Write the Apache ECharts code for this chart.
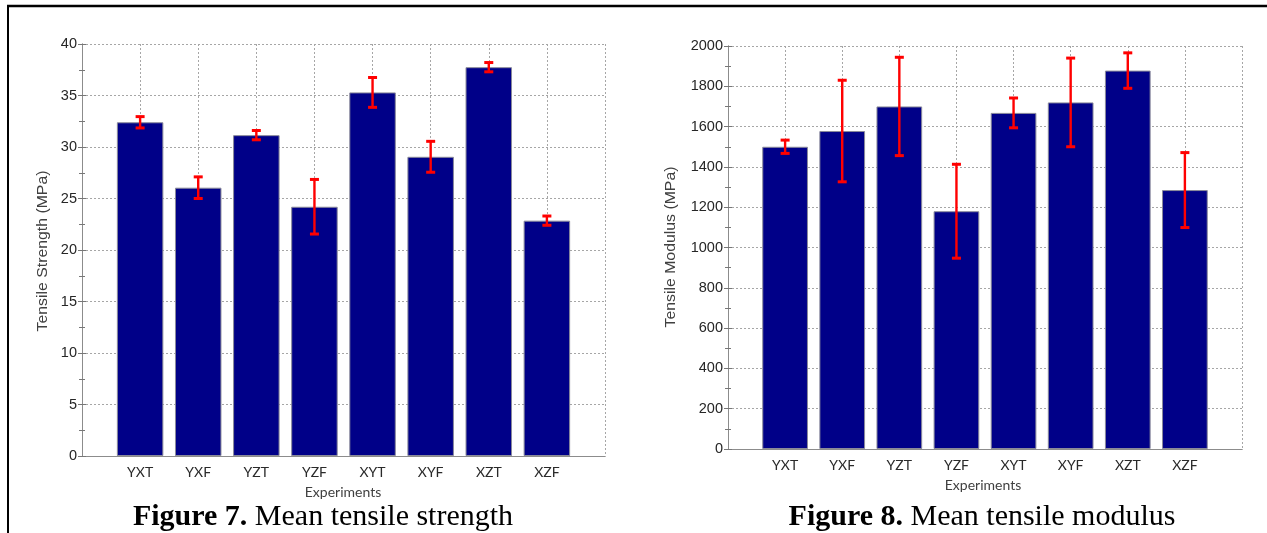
<!DOCTYPE html>
<html>
<head>
<meta charset="utf-8">
<script src="https://cdn.jsdelivr.net/npm/echarts@6/dist/echarts.min.js"></script>
<style>
html,body{margin:0;padding:0;background:#fff;}
#chart{width:1267px;height:533px;}
</style>
</head>
<body>
<div id="chart"></div>
<script>
const categories = ['YXT', 'YXF', 'YZT', 'YZF', 'XYT', 'XYF', 'XZT', 'XZF'];
const strengthMeans = [32.4, 26.05, 31.15, 24.2, 35.3, 29.05, 37.75, 22.85];
const strengthErr = [0.55, 1.05, 0.45, 2.65, 1.45, 1.5, 0.45, 0.45];
const modulusMeans = [1500, 1578, 1700, 1180, 1668, 1720, 1878, 1285];
const modulusErr = [33, 252, 244, 233, 74, 220, 88, 186];
const strengthAxis = { min: 0, max: 40, interval: 5 };
const modulusAxis = { min: 0, max: 2000, interval: 200 };
const xTitle = 'Experiments';
const strengthTitle = 'Tensile Strength (MPa)';
const modulusTitle = 'Tensile Modulus (MPa)';
const caption7 = ['Figure 7.', 'Mean tensile strength'];
const caption8 = ['Figure 8.', 'Mean tensile modulus'];

const chart = echarts.init(document.getElementById('chart'), null, { renderer: 'canvas' });

const BAR = '#000088';
const AXIS = '#8c8c8c';
const GRIDC = '#a6a6a6';

function xAxes(gi) {
  return [
    {
      type: 'value', gridIndex: gi, min: 0, max: categories.length + 1, interval: 1,
      position: 'bottom',
      axisLine: { show: true, lineStyle: { color: AXIS, width: 1 } },
      axisTick: { show: false },
      axisLabel: {
        showMinLabel: false, showMaxLabel: false, margin: 9,
        formatter: v => categories[v - 1] || '',
        fontFamily: 'Lato', fontSize: 14, color: '#2a2a2a'
      },
      splitLine: { show: true, lineStyle: { color: GRIDC, type: [2, 2], width: 1 } }
    },
    {
      type: 'value', gridIndex: gi, min: 0, max: categories.length + 1, interval: 1,
      position: 'top',
      axisLine: { show: true, lineStyle: { color: AXIS, width: 1 } },
      axisTick: { show: false }, axisLabel: { show: false }, splitLine: { show: false }
    }
  ];
}
function yAxes(gi, ax, minorSplit) {
  return [
    {
      type: 'value', gridIndex: gi, min: ax.min, max: ax.max, interval: ax.interval,
      position: 'left',
      axisLine: { show: true, lineStyle: { color: AXIS, width: 1 } },
      axisTick: { show: true, inside: true, length: 4, lineStyle: { color: '#777' } },
      minorTick: { show: true, splitNumber: minorSplit, length: 3, lineStyle: { color: '#777' } },
      axisLabel: { margin: 5, fontFamily: 'Liberation Sans', fontSize: 14.5, color: '#262626',
        formatter: v => String(v) },
      splitLine: { show: true, lineStyle: { color: GRIDC, type: [2, 2], width: 1 } }
    },
    {
      type: 'value', gridIndex: gi, min: ax.min, max: ax.max, interval: ax.interval,
      position: 'right',
      axisLine: { show: true, lineStyle: { color: AXIS, width: 1 } },
      axisTick: { show: true, inside: true, length: 4, lineStyle: { color: '#777' } },
      minorTick: { show: true, splitNumber: minorSplit, length: 3, lineStyle: { color: '#777' } },
      axisLabel: { show: false },
      splitLine: { show: false }
    }
  ];
}

function errorSeries(xi, yi, means, errs) {
  return {
    type: 'custom', xAxisIndex: xi, yAxisIndex: yi, z: 10,
    data: means.map((m, i) => [i + 1, m, errs[i]]),
    encode: { x: 0, y: 1 },
    renderItem: function (params, api) {
      const x = api.value(0), y = api.value(1), e = api.value(2);
      const top = api.coord([x, y + e]);
      const bot = api.coord([x, y - e]);
      const h = 4.5;
      return {
        type: 'group',
        children: [
          { type: 'line', shape: { x1: top[0], y1: top[1], x2: bot[0], y2: bot[1] }, style: { stroke: '#ff0000', lineWidth: 2.4 } },
          { type: 'line', shape: { x1: top[0] - h, y1: top[1], x2: top[0] + h, y2: top[1] }, style: { stroke: '#ff0000', lineWidth: 3 } },
          { type: 'line', shape: { x1: bot[0] - h, y1: bot[1], x2: bot[0] + h, y2: bot[1] }, style: { stroke: '#ff0000', lineWidth: 3 } }
        ]
      };
    }
  };
}

function yTitle(x, y, text) {
  return { type: 'text', x: x, y: y, rotation: Math.PI / 2, scaleX: 1.13,
    style: { text: text, align: 'center', verticalAlign: 'middle', font: '14px "Liberation Sans"', fill: '#404040' } };
}
function caption(x, parts) {
  return { type: 'text', x: x, y: 517,
    style: { text: '{b|' + parts[0] + '} ' + parts[1], align: 'center', verticalAlign: 'middle',
      fontFamily: 'Liberation Serif', fontSize: 30, fill: '#000',
      rich: { b: { fontFamily: 'Liberation Serif', fontSize: 30, fontWeight: 'bold', fill: '#000' } } } };
}

const option = {
  animation: false,
  backgroundColor: '#ffffff',
  grid: [
    { left: 82, top: 44, width: 523, height: 412 },
    { left: 728, top: 46, width: 514, height: 403 }
  ],
  xAxis: [].concat(xAxes(0), xAxes(1)),
  yAxis: [].concat(yAxes(0, strengthAxis, 2), yAxes(1, modulusAxis, 2)),
  series: [
    {
      type: 'bar', xAxisIndex: 0, yAxisIndex: 0, barWidth: 46.5,
      data: strengthMeans.map((v, i) => [i + 1, v]),
      itemStyle: { color: BAR, borderColor: '#8a8a9a', borderWidth: 1 }
    },
    errorSeries(0, 0, strengthMeans, strengthErr),
    {
      type: 'bar', xAxisIndex: 2, yAxisIndex: 2, barWidth: 45.7,
      data: modulusMeans.map((v, i) => [i + 1, v]),
      itemStyle: { color: BAR, borderColor: '#8a8a9a', borderWidth: 1 }
    },
    errorSeries(2, 2, modulusMeans, modulusErr)
  ],
  graphic: [
    { type: 'line', shape: { x1: 7, y1: 6, x2: 1267, y2: 6 }, style: { stroke: '#000', lineWidth: 2.5 } },
    { type: 'line', shape: { x1: 8, y1: 5, x2: 8, y2: 533 }, style: { stroke: '#000', lineWidth: 2 } },
    yTitle(43, 251, strengthTitle),
    yTitle(671, 247, modulusTitle),
    { type: 'text', x: 343, y: 492,
      style: { text: xTitle, align: 'center', verticalAlign: 'middle', font: '14px Lato', fill: '#404040' } },
    { type: 'text', x: 983, y: 485,
      style: { text: xTitle, align: 'center', verticalAlign: 'middle', font: '14px Lato', fill: '#404040' } },
    caption(323, caption7),
    caption(982, caption8)
  ]
};
chart.setOption(option);
</script>
</body>
</html>
